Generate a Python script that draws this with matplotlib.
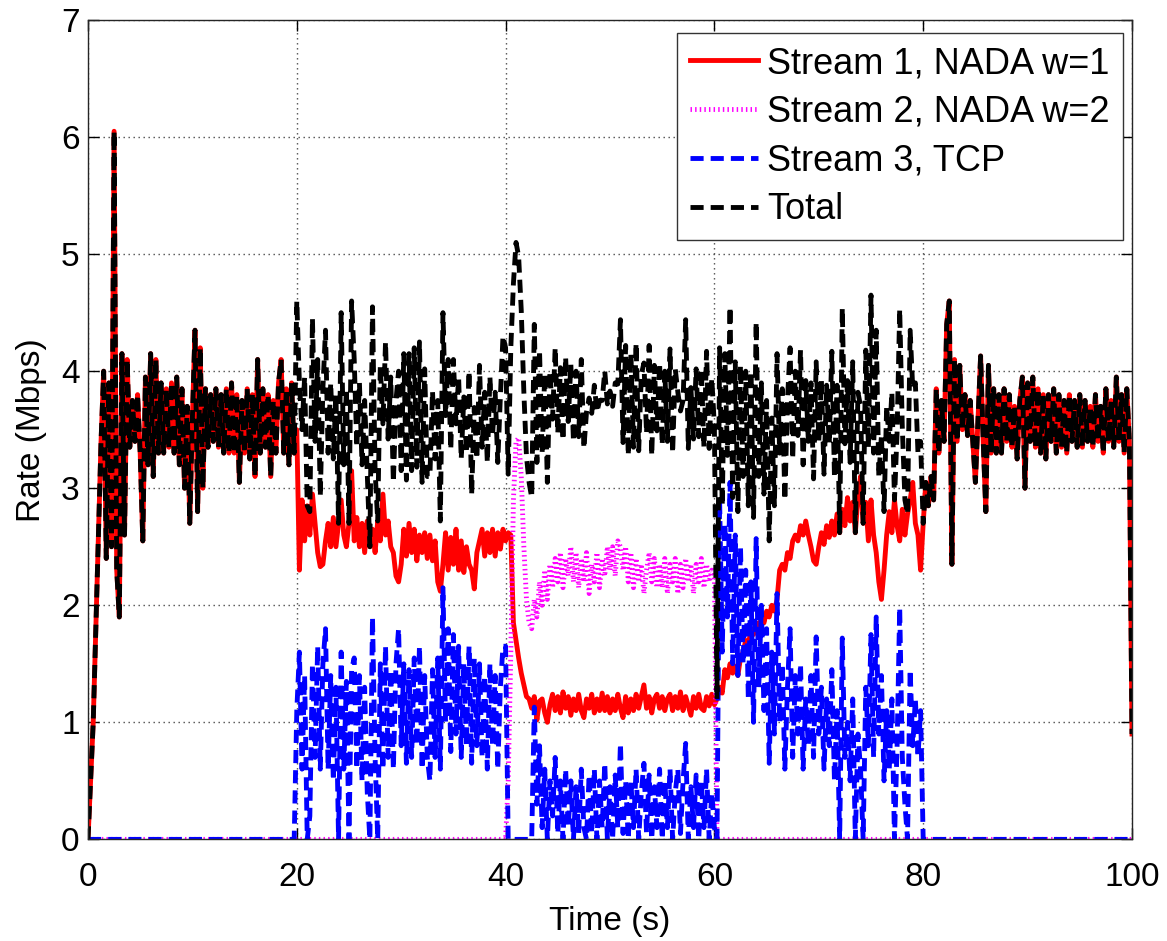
import numpy as np
import matplotlib.pyplot as plt

plt.rcParams['font.family'] = ['Liberation Sans', 'DejaVu Sans']

# samples every 0.25 s, 0..100 s
t = np.linspace(0, 100, 401)

# Stream 1 (NADA w=1)
s1 = np.array([
    # 0 - 4.75
    0.0, 0.5, 1.0, 1.8, 2.6, 3.4, 4.0, 2.4, 3.9, 2.5, 6.05, 2.3, 1.9, 4.15, 2.6, 4.1, 3.35, 3.75, 3.4, 3.8,
    # 5 - 9.75
    3.3, 2.55, 3.95, 3.2, 4.15, 3.1, 4.1, 3.3, 3.9, 3.3, 3.85, 3.35, 3.9, 3.3, 3.95, 3.2, 3.85, 3.0, 3.7, 2.7,
    # 10 - 14.75
    3.6, 4.35, 2.8, 4.2, 3.0, 3.85, 3.35, 3.8, 3.4, 3.85, 3.35, 3.8, 3.3, 3.85, 3.3, 3.9, 3.3, 3.8, 3.05, 3.75,
    # 15 - 19.75
    3.3, 3.85, 3.25, 3.8, 3.1, 4.1, 3.3, 3.85, 3.35, 3.8, 3.1, 3.75, 3.3, 3.9, 4.1, 3.3, 3.85, 3.2, 3.9, 3.3,
    # 20 - 24.75
    3.5, 2.3, 2.9, 2.55, 2.85, 2.6, 2.95, 2.7, 2.45, 2.33, 2.35, 2.55, 2.7, 2.5, 2.75, 2.5, 2.7, 2.9, 2.6, 2.5,
    # 25 - 29.75
    2.7, 3.15, 2.55, 2.75, 2.5, 2.7, 2.45, 2.72, 2.5, 2.65, 2.45, 2.72, 2.55, 2.95, 2.6, 2.72, 2.5, 2.45, 2.25, 2.2,
    # 30 - 34.75
    2.35, 2.65, 2.42, 2.7, 2.45, 2.65, 2.38, 2.6, 2.45, 2.62, 2.4, 2.6, 2.38, 2.55, 2.2, 2.12, 2.35, 2.62, 2.3, 2.58,
    # 35 - 39.75
    2.35, 2.65, 2.3, 2.55, 2.28, 2.5, 2.35, 2.3, 2.14, 2.45, 2.55, 2.65, 2.42, 2.62, 2.45, 2.65, 2.42, 2.62, 2.48, 2.65,
    # 40 - 44.75
    2.55, 2.62, 2.6, 1.85, 1.7, 1.55, 1.42, 1.32, 1.22, 1.2, 1.12, 1.22, 1.02, 1.18, 1.2, 1.08, 1.0, 1.15, 1.24, 1.1,
    # 45 - 49.75
    1.22, 1.08, 1.26, 1.12, 1.22, 1.06, 1.2, 1.1, 1.24, 1.1, 1.04, 1.2, 1.12, 1.24, 1.08, 1.2, 1.1, 1.25, 1.1, 1.22,
    # 50 - 54.75
    1.08, 1.2, 1.1, 1.24, 1.12, 1.04, 1.22, 1.08, 1.2, 1.1, 1.24, 1.12, 1.22, 1.32, 1.12, 1.22, 1.08, 1.2, 1.24, 1.12,
    # 55 - 59.75
    1.22, 1.1, 1.2, 1.24, 1.1, 1.22, 1.12, 1.26, 1.1, 1.22, 1.14, 1.06, 1.22, 1.12, 1.24, 1.12, 1.1, 1.22, 1.14, 1.24,
    # 60 - 64.75
    1.15, 1.2, 1.3, 1.25, 1.45, 1.38, 1.5, 1.42, 1.48, 1.4, 1.55, 1.6, 1.7, 1.65, 1.8, 1.75, 1.85, 1.8, 1.9, 1.85,
    # 65 - 69.75
    1.95, 1.9, 2.0, 1.95, 2.05, 2.3, 2.35, 2.3, 2.45, 2.4, 2.55, 2.6, 2.55, 2.68, 2.6, 2.72, 2.6, 2.5, 2.38, 2.35,
    # 70 - 74.75
    2.5, 2.62, 2.52, 2.68, 2.58, 2.72, 2.6, 2.78, 2.62, 2.82, 2.68, 2.92, 2.72, 2.88, 2.62, 2.92, 3.1, 2.7, 2.88, 2.55,
    # 75 - 79.75
    2.9, 2.6, 2.45, 2.2, 2.05, 2.3, 2.6, 2.8, 2.62, 2.9, 2.68, 2.55, 2.82, 2.6, 2.78, 2.9, 3.05, 2.7, 2.6, 2.3,
    # 80 - 84.75
    2.7, 3.05, 2.85, 3.1, 2.9, 3.85, 3.3, 3.75, 3.4, 4.4, 4.6, 2.35, 4.1, 3.4, 4.05, 3.5, 3.8, 3.45, 3.75, 3.4,
    # 85 - 89.75
    3.05, 3.6, 4.13, 3.4, 2.8, 4.05, 3.3, 3.85, 3.3, 3.8, 3.3, 3.85, 3.4, 3.8, 3.35, 3.7, 3.25, 3.75, 3.95, 3.0,
    # 90 - 94.75
    3.9, 3.4, 3.95, 3.35, 3.85, 3.3, 3.8, 3.25, 3.8, 3.4, 3.85, 3.3, 3.8, 3.35, 3.75, 3.3, 3.8, 3.4, 3.75, 3.35,
    # 95 - 100
    3.8, 3.35, 3.75, 3.4, 3.7, 3.35, 3.8, 3.4, 3.7, 3.3, 3.85, 3.4, 3.75, 3.35, 3.95, 3.4, 3.8, 3.3, 3.85, 3.4,
    0.9,
])

# Stream 2 (NADA w=2), active 40 - 60 s
s2_active = [
    0.0, 0.5, 1.6, 2.9, 3.4, 3.43, 3.1, 2.5, 2.05, 1.85, 1.8, 2.05, 1.9, 2.2, 2.0, 2.3, 2.05, 2.35, 2.15, 2.4,
    2.2, 2.45, 2.15, 2.4, 2.25, 2.5, 2.2, 2.45, 2.15, 2.4, 2.2, 2.45, 2.1, 2.35, 2.2, 2.45, 2.15, 2.4, 2.25, 2.5,
    2.3, 2.5, 2.25, 2.55, 2.5, 2.3, 2.5, 2.2, 2.45, 2.15, 2.4, 2.2, 2.35, 2.1, 2.3, 2.45, 2.2, 2.4, 2.15, 2.35,
    2.15, 2.4, 2.1, 2.35, 2.2, 2.4, 2.1, 2.35, 2.15, 2.4, 2.2, 2.35, 2.1, 2.35, 2.2, 2.4, 2.15, 2.35, 2.2, 2.3,
    2.28,
]

# Stream 3 (TCP), active 20 - 80 s
s3_active = [
    1.1, 1.6, 0.6, 1.4, 0.0, 0.2, 1.5, 0.7, 1.65, 0.6, 1.5, 1.8, 0.6, 1.4, 0.5, 1.3, 0.0, 1.6, 0.6, 1.35,
    0.0, 1.45, 1.55, 0.6, 1.4, 0.5, 1.3, 0.4, 0.0, 1.9, 0.7, 0.0, 1.5, 0.6, 1.65, 0.7, 1.45, 0.6, 1.5, 1.8,
    0.8, 1.5, 0.65, 1.45, 0.7, 1.55, 0.8, 1.65, 0.6, 1.4, 0.7, 0.5, 1.45, 0.7, 1.55, 0.6, 2.15, 1.0, 1.8, 0.75,
    1.75, 0.9, 1.65, 0.7, 1.5, 0.8, 1.65, 0.65, 1.55, 0.8, 1.5, 0.7, 1.4, 0.6, 1.5, 0.8, 1.4, 0.6, 1.3, 1.65,
    1.65, 0.0, 0.0, 0.0, 0.0, 0.0, 0.0, 0.0, 0.0, 0.0, 0.0, 1.13, 0.3, 0.8, 0.1, 0.6, 0.0, 0.5, 0.2, 0.7,
    0.05, 0.5, 0.0, 0.6, 0.1, 0.5, 0.0, 0.45, 0.05, 0.6, 0.1, 0.0, 0.55, 0.05, 0.6, 0.0, 0.5, 0.1, 0.65, 0.0,
    0.45, 0.0, 0.55, 0.1, 0.82, 0.05, 0.5, 0.0, 0.5, 0.1, 0.6, 0.0, 0.4, 0.65, 0.05, 0.55, 0.0, 0.45, 0.1, 0.6,
    0.0, 0.5, 0.1, 0.6, 0.0, 0.4, 0.6, 0.05, 0.5, 0.82, 0.0, 0.45, 0.1, 0.55, 0.0, 0.5, 0.1, 0.6, 0.0, 0.4,
    0.1, 0.0, 2.9, 1.6, 2.7, 1.9, 3.05, 1.5, 2.6, 1.4, 2.5, 1.5, 2.3, 1.2, 2.2, 1.0, 2.57, 1.3, 2.0, 1.1,
    1.8, 0.65, 1.6, 0.9, 2.1, 1.0, 1.5, 0.6, 1.3, 1.8, 0.7, 1.4, 0.9, 1.5, 0.6, 1.2, 0.8, 1.4, 0.7, 1.73,
    0.9, 1.3, 0.6, 1.2, 0.8, 1.45, 0.5, 1.1, 0.0, 1.72, 0.7, 1.0, 0.5, 1.2, 0.0, 0.9, 0.6, 0.0, 1.3, 0.8,
    1.75, 0.7, 1.9, 0.9, 1.4, 0.5, 1.1, 0.6, 1.2, 0.0, 0.8, 1.98, 0.7, 0.3, 0.0, 1.45, 0.8, 1.2, 0.7, 1.1,
    0.0,
]

s2 = np.zeros_like(t)
s2[160:241] = s2_active
s3 = np.zeros_like(t)
s3[80:321] = s3_active
total = s1 + s2 + s3

fig = plt.figure(figsize=(11.67, 9.41), dpi=100)
ax = fig.add_axes([0.0754, 0.108, 0.8946, 0.8707])

dash = (0, (2.7, 1.45))
ax.plot(t, s1, color='red', lw=3.5, label='Stream 1, NADA w=1')
ax.plot(t, s2, color='magenta', lw=3.5, linestyle=(0, (0.3, 0.65)), label='Stream 2, NADA w=2')
ax.plot(t, s3, color='blue', lw=3.5, linestyle=dash, label='Stream 3, TCP')
ax.plot(t, total, color='black', lw=3.5, linestyle=dash, label='Total')

ax.set_xlim(0, 100)
ax.set_ylim(0, 7)
ax.set_xticks(np.arange(0, 101, 20))
ax.set_yticks(np.arange(0, 8, 1))
ax.tick_params(direction='in', top=True, right=True, length=8, width=1,
               labelsize=24)
ax.tick_params(axis='x', pad=16)
ax.tick_params(axis='y', pad=6)
ax.grid(True, linestyle=(0, (1, 2.6)), color='0.3', lw=1)
for sp in ax.spines.values():
    sp.set_linewidth(1)
    sp.set_color('0.15')

ax.set_xlabel('Time (s)', fontsize=24, labelpad=10)
ax.set_ylabel('Rate (Mbps)', fontsize=24, labelpad=10)

leg = ax.legend(loc='upper right', bbox_to_anchor=(1123 / 1167, 1 - 33 / 941),
                bbox_transform=fig.transFigure, borderaxespad=0, fontsize=26,
                fancybox=False, framealpha=1, edgecolor='0.2', handlelength=1.9,
                handletextpad=0.25, labelspacing=0.38, borderpad=0.36)
leg.get_frame().set_linewidth(1)

fig.savefig('out.png', dpi=100)
